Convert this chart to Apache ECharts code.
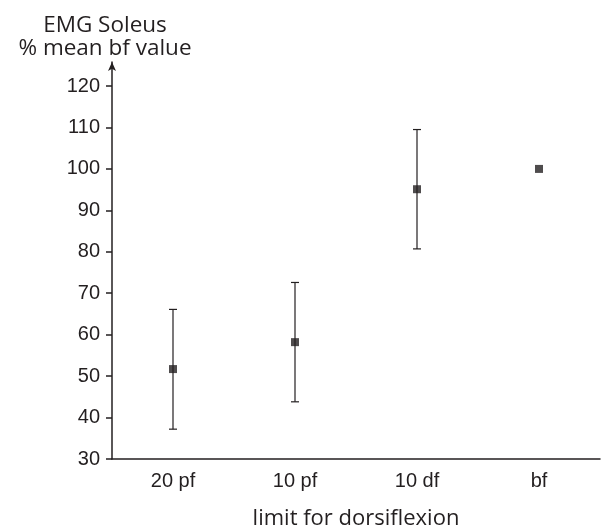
<!DOCTYPE html>
<html><head><meta charset="utf-8">
<script src="https://cdn.jsdelivr.net/npm/echarts@6/dist/echarts.min.js"></script>
<style>html,body{margin:0;padding:0;background:#fff}#c{width:602px;height:529px}</style>
</head><body><div id="c"></div>
<script>
const categories = ['20 pf', '10 pf', '10 df', 'bf'];
const means = [51.7, 58.2, 95.1, 100];
const upper = [66.1, 72.6, 109.5, 100];
const lower = [37.2, 43.8, 80.7, 100];
const yTicks = [30, 40, 50, 60, 70, 80, 90, 100, 110, 120];

const ink = '#231f20';
const chart = echarts.init(document.getElementById('c'));
chart.setOption({
  animation: false,
  grid: { left: 112, right: 2, top: 62, bottom: 70, outerBoundsMode: 'none', containLabel: false },
  xAxis: {
    type: 'category',
    data: categories,
    boundaryGap: true,
    name: 'limit for dorsiflexion',
    nameLocation: 'middle',
    nameGap: 49,
    nameTextStyle: { fontFamily: 'Open Sans', fontSize: 22, color: ink },
    axisLine: { lineStyle: { color: ink, width: 1.5 } },
    axisTick: { alignWithLabel: true, length: 6, lineStyle: { color: ink, width: 1.5 } },
    axisLabel: { fontFamily: 'Liberation Sans', fontSize: 20, color: ink, margin: 12 },
    splitLine: { show: false }
  },
  yAxis: {
    type: 'value',
    min: 30,
    max: 125.8,
    name: 'EMG Soleus\n% mean bf value',
    nameLocation: 'end',
    nameGap: 2,
    nameTextStyle: { fontFamily: 'Open Sans', fontSize: 22.5, color: ink, lineHeight: 23, align: 'center', padding: [0, 14, 0, 0] },
    axisLine: { show: true, symbol: ['none', 'arrow'], symbolSize: [6, 9], lineStyle: { color: ink, width: 1.5 } },
    axisTick: { show: true, inside: false, length: 6, customValues: yTicks, lineStyle: { color: ink, width: 1.5 } },
    axisLabel: { fontFamily: 'Liberation Sans', fontSize: 20, color: ink, margin: 12, customValues: yTicks },
    splitLine: { show: false }
  },
  series: [
    {
      type: 'custom',
      data: categories.map((c, i) => [i, lower[i], upper[i]]),
      renderItem: function (params, api) {
        const lo = api.value(1), hi = api.value(2);
        if (lo === hi) return { type: 'group', children: [] };
        const p1 = api.coord([api.value(0), hi]);
        const p2 = api.coord([api.value(0), lo]);
        const cap = 4;
        const st = { stroke: ink, lineWidth: 1.2 };
        return {
          type: 'group',
          children: [
            { type: 'line', shape: { x1: p1[0], y1: p1[1], x2: p2[0], y2: p2[1] }, style: st },
            { type: 'line', shape: { x1: p1[0] - cap, y1: p1[1], x2: p1[0] + cap, y2: p1[1] }, style: st },
            { type: 'line', shape: { x1: p2[0] - cap, y1: p2[1], x2: p2[0] + cap, y2: p2[1] }, style: st }
          ]
        };
      },
      z: 2
    },
    {
      type: 'scatter',
      data: means,
      symbol: 'rect',
      symbolSize: 8,
      itemStyle: { color: ink },
      z: 3
    }
  ]
});
</script></body></html>
